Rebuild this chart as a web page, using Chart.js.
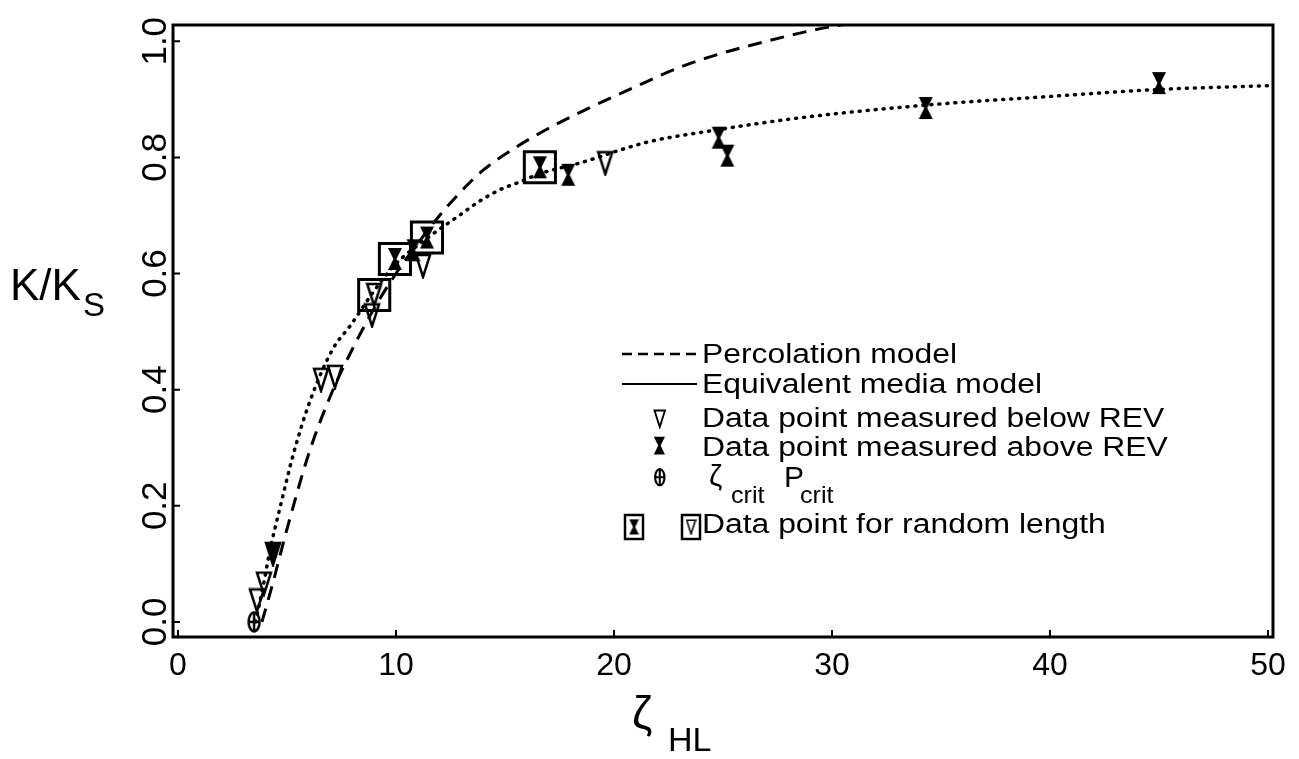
<!DOCTYPE html>
<html>
<head>
<meta charset="utf-8">
<script src="https://cdn.jsdelivr.net/npm/chart.js@4.4.0/dist/chart.umd.min.js"></script>
<style>
  body { margin: 0; background: #fff; }
  #c { display: block; }
</style>
</head>
<body>
<canvas id="c" width="1299" height="759"></canvas>
<script>
// Percolation model (dashed)
const pctX = [3.85, 4.3, 5.0, 6.0, 7.0, 8.0, 9.0, 10.0, 11.0, 12.0, 13.0, 14.0, 15.4, 16.9, 18.8, 21.0, 23.0, 25.0, 27.0, 29.0, 31.0];
const pctY = [0.0, 0.06, 0.16, 0.29, 0.39, 0.47, 0.54, 0.60, 0.652, 0.70, 0.742, 0.778, 0.815, 0.848, 0.884, 0.922, 0.955, 0.98, 1.0, 1.018, 1.032];
// Equivalent media model (drawn dotted in the figure)
const emmX = [3.55, 3.9, 4.2, 4.7, 5.3, 6.05, 7.1, 7.9, 8.9, 9.95, 11.4, 12.9, 13.85, 14.8, 15.7, 16.6, 18.4, 21.5, 24.5, 28.5, 34.3, 40, 45, 50.3];
const emmY = [0.0, 0.06, 0.12, 0.20, 0.29, 0.38, 0.47, 0.51, 0.565, 0.615, 0.66, 0.70, 0.725, 0.745, 0.758, 0.772, 0.79, 0.826, 0.846, 0.868, 0.89, 0.905, 0.917, 0.924];
// data points measured below REV
const belowX = [3.62, 3.94, 4.36, 6.56, 7.2, 8.9, 9.0, 11.24, 19.6];
const belowY = [0.037, 0.066, 0.117, 0.417, 0.422, 0.528, 0.563, 0.613, 0.79];
const belowFilled = [false, false, true, false, false, false, false, false, false];
// data points measured above REV
const aboveX = [9.95, 10.8, 11.42, 16.6, 17.9, 24.8, 25.2, 34.3, 45.0];
const aboveY = [0.625, 0.64, 0.662, 0.783, 0.77, 0.834, 0.803, 0.885, 0.928];
// critical point
const critX = [3.49];
const critY = [0.0];
// data points for random length (boxed)
const boxX = [9.0, 9.95, 11.42, 16.6];
const boxY = [0.563, 0.625, 0.662, 0.783];

const xTicks = [0, 10, 20, 30, 40, 50];
const yTicks = [0.0, 0.2, 0.4, 0.6, 0.8, 1.0];
const yTickLabels = ['0.0', '0.2', '0.4', '0.6', '0.8', '1.0'];

const FONT = '"Liberation Sans", Arial, sans-serif';
const pts = (xs, ys) => xs.map((v, i) => ({ x: v, y: ys[i] }));

function makeTri(filled, s) {
  s = s || 1;
  const c = document.createElement('canvas');
  c.width = Math.round(18 * s); c.height = Math.round(26 * s);
  const g = c.getContext('2d');
  g.scale(s, s);
  g.lineWidth = 2.5;
  g.beginPath(); g.moveTo(2, 2); g.lineTo(16, 2); g.lineTo(9, 24); g.closePath();
  if (filled) g.fill();
  g.stroke();
  return c;
}
function makeHour(s) {
  s = s || 1;
  const c = document.createElement('canvas');
  c.width = Math.round(16 * s); c.height = Math.round(24 * s);
  const g = c.getContext('2d');
  g.scale(s, s);
  g.beginPath();
  g.moveTo(1, 1); g.lineTo(15, 1); g.lineTo(9.5, 12); g.lineTo(15, 23); g.lineTo(1, 23); g.lineTo(6.5, 12);
  g.closePath(); g.fill();
  return c;
}
function makeCrit(s) {
  s = s || 1;
  const c = document.createElement('canvas');
  c.width = Math.round(16 * s); c.height = Math.round(24 * s);
  const g = c.getContext('2d');
  g.scale(s, s);
  g.lineWidth = 2.5;
  g.beginPath(); g.ellipse(8, 12, 5.5, 9.5, 0, 0, Math.PI * 2); g.stroke();
  g.beginPath(); g.moveTo(8, 3); g.lineTo(8, 21); g.moveTo(3, 12); g.lineTo(13, 12); g.stroke();
  return c;
}

const triOpen = makeTri(false), triFill = makeTri(true), hour = makeHour(), crit = makeCrit();

function stext(ctx, s, x, y, size, sx) {
  sx = sx || 1;
  ctx.save();
  ctx.font = size + 'px ' + FONT;
  ctx.textBaseline = 'alphabetic';
  ctx.translate(x, y); ctx.scale(sx, 1);
  ctx.fillText(s, 0, 0);
  const w = ctx.measureText(s).width * sx;
  ctx.restore();
  return w;
}

const decor = {
  id: 'decor',
  afterDraw(chart) {
    const { ctx, chartArea: a, scales: { x, y } } = chart;
    ctx.save();
    ctx.fillStyle = '#000'; ctx.strokeStyle = '#000';
    // frame
    ctx.lineWidth = 3;
    ctx.strokeRect(a.left, a.top, a.right - a.left, a.bottom - a.top);
    // inner ticks
    ctx.lineWidth = 2;
    ctx.beginPath();
    xTicks.forEach(v => { const p = x.getPixelForValue(v); ctx.moveTo(p, a.bottom); ctx.lineTo(p, a.bottom - 7); });
    yTicks.forEach(v => { const p = y.getPixelForValue(v); ctx.moveTo(a.left, p); ctx.lineTo(a.left + 7, p); });
    ctx.stroke();
    // y tick labels, rotated
    yTicks.forEach((v, i) => {
      const p = y.getPixelForValue(v);
      ctx.save();
      ctx.translate(166, p); ctx.rotate(-Math.PI / 2);
      ctx.font = '35px ' + FONT; ctx.textAlign = 'center'; ctx.textBaseline = 'alphabetic';
      ctx.fillText(yTickLabels[i], 0, 0);
      ctx.restore();
    });
    // axis titles
    let w = stext(ctx, 'K/K', 10, 300, 44);
    stext(ctx, 'S', 10 + w + 2, 316, 33);
    stext(ctx, 'ζ', 632, 729, 46);
    stext(ctx, 'HL', 668, 751, 34);

    // legend
    const SX = 1.18, LF = 27;
    ctx.lineWidth = 2.5;
    ctx.setLineDash([10, 6]);
    ctx.beginPath(); ctx.moveTo(622, 354); ctx.lineTo(697, 354); ctx.stroke();
    ctx.setLineDash([]);
    ctx.lineWidth = 2;
    ctx.beginPath(); ctx.moveTo(622, 384); ctx.lineTo(697, 384); ctx.stroke();
    stext(ctx, 'Percolation model', 702, 363, LF, SX);
    stext(ctx, 'Equivalent media model', 702, 393, LF, SX);
    ctx.drawImage(makeTri(false, 0.75), 653, 409);
    stext(ctx, 'Data point measured below REV', 702, 427, LF, SX);
    ctx.drawImage(makeHour(0.8), 653, 436);
    stext(ctx, 'Data point measured above REV', 702, 456, LF, SX);
    ctx.drawImage(makeCrit(0.85), 653, 467);
    stext(ctx, 'ζ', 709, 486, 30);
    stext(ctx, 'crit', 731, 503, 24, 1.05);
    stext(ctx, 'P', 784, 487, 30);
    stext(ctx, 'crit', 800, 503, 24, 1.05);
    ctx.lineWidth = 2.5;
    ctx.strokeRect(625, 515, 18, 24);
    ctx.drawImage(makeHour(0.7), 628.5, 518.5);
    ctx.strokeRect(682, 515, 18, 24);
    ctx.drawImage(makeTri(false, 0.62), 685.5, 519);
    stext(ctx, 'Data point for random length', 702, 533, LF, SX);
    ctx.restore();
  }
};

new Chart(document.getElementById('c'), {
  type: 'scatter',
  data: {
    datasets: [
      { data: pts(boxX, boxY), pointStyle: 'rect', pointRadius: 22, borderWidth: 3,
        borderColor: '#000', backgroundColor: 'rgba(0,0,0,0)', order: 1 },
      { data: pts(belowX, belowY), pointStyle: belowFilled.map(f => f ? triFill : triOpen), order: 0 },
      { data: pts(aboveX, aboveY), pointStyle: hour, order: 0 },
      { data: pts(critX, critY), pointStyle: crit, order: 0 },
      { data: pts(pctX, pctY), showLine: true, pointRadius: 0, borderColor: '#000', borderWidth: 3,
        borderDash: [14, 9], cubicInterpolationMode: 'monotone', order: 5 },
      { data: pts(emmX, emmY), showLine: true, pointRadius: 0, borderColor: '#000', borderWidth: 3.5,
        borderDash: [1, 7], borderCapStyle: 'round', cubicInterpolationMode: 'monotone', order: 5 }
    ]
  },
  options: {
    responsive: false,
    animation: false,
    devicePixelRatio: 1,
    events: [],
    layout: { padding: { top: 18, right: 26, left: 0, bottom: 0 } },
    plugins: { legend: { display: false }, tooltip: { enabled: false } },
    scales: {
      x: {
        type: 'linear', min: -0.23, max: 50.23,
        afterBuildTicks: s => { s.ticks = xTicks.map(v => ({ value: v })); },
        afterFit: s => { s.height = 122; },
        grid: { display: false, drawTicks: false },
        border: { display: false },
        ticks: { color: '#000', font: { size: 32, family: FONT }, padding: 10, maxRotation: 0 }
      },
      y: {
        type: 'linear', min: -0.026, max: 1.028,
        afterBuildTicks: s => { s.ticks = yTicks.map(v => ({ value: v })); },
        afterFit: s => { s.width = 173; },
        grid: { display: false, drawTicks: false },
        border: { display: false },
        ticks: { display: false }
      }
    }
  },
  plugins: [decor]
});
</script>
</body>
</html>
